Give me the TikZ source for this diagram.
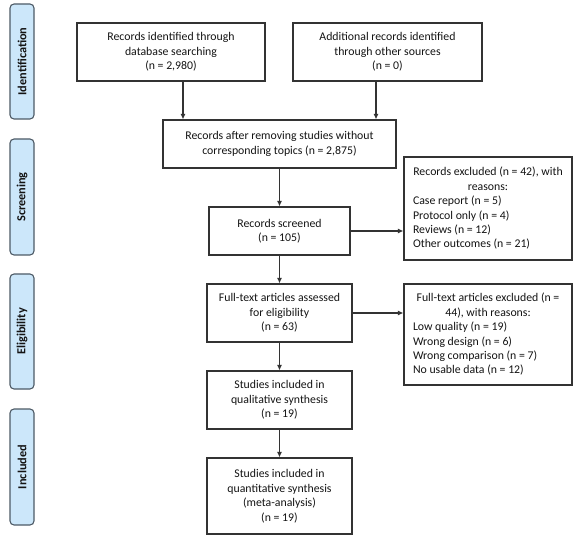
\documentclass[tikz,border=0pt]{standalone}
\usepackage{fontspec}
\setmainfont{Carlito}
\usetikzlibrary{arrows.meta}
\definecolor{boxc}{HTML}{333333}
\definecolor{txt}{HTML}{141414}
\definecolor{phf}{HTML}{CCE7FA}
\definecolor{phb}{HTML}{4D5A66}
\begin{document}
\begin{tikzpicture}[x=1pt,y=-1pt,
  box/.style={draw=boxc, line width=1.1pt, fill=white, inner sep=0pt, align=center, text=txt,
    font=\fontsize{11.8}{14.5}\selectfont},
  exbox/.style={draw=boxc, line width=1.1pt, fill=white, inner sep=0pt, text=txt,
    font=\fontsize{11.8}{14.4}\selectfont},
  phase/.style={draw=phb, fill=phf, line width=1.1pt, rounded corners=4pt, inner sep=0pt,
    rotate=90, text=txt, font=\fontsize{12.3}{14}\selectfont\bfseries},
  arr/.style={draw=boxc, line width=1.1pt, -{Latex[length=5.5pt,width=5pt]}}]
\useasboundingbox (0,0) rectangle (573,537);

% phase labels
\node[phase, minimum width=115pt, minimum height=24pt] (p1) at (22,61.5) {Identification};
\node[phase, minimum width=116pt, minimum height=24pt] (p2) at (22,197) {Screening};
\node[phase, minimum width=115pt, minimum height=24pt] (p3) at (22,331.5) {Eligibility};
\node[phase, minimum width=116pt, minimum height=24pt] (p4) at (22,467) {Included};

% main boxes
\node[box, minimum width=188pt, minimum height=58pt] (b1) at (171,52)
  {Records identified through\\database searching\\(n = 2,980)};
\node[box, minimum width=189pt, minimum height=58pt] (b2) at (387.5,52)
  {Additional records identified\\through other sources\\(n = 0)};
\node[box, minimum width=233pt, minimum height=48pt] (b3) at (279.5,144)
  {Records after removing studies without\\corresponding topics (n = 2,875)};
\node[box, minimum width=141pt, minimum height=48pt] (b4) at (279.5,231)
  {Records screened\\(n = 105)};
\node[box, minimum width=145pt, minimum height=58pt] (b5) at (279.5,313)
  {Full-text articles assessed\\for eligibility\\(n = 63)};
\node[box, minimum width=145pt, minimum height=58pt] (b6) at (279.5,400)
  {Studies included in\\qualitative synthesis\\(n = 19)};
\node[box, minimum width=145pt, minimum height=76pt] (b7) at (279.5,496)
  {Studies included in\\quantitative synthesis\\(meta-analysis)\\(n = 19)};

% exclusion boxes
\node[exbox, minimum width=168pt, minimum height=103pt] (e1) at (488,208.5)
  {\begin{minipage}{150pt}\centering Records excluded (n = 42), with\\reasons:\par
   \raggedright Case report (n = 5)\\Protocol only (n = 4)\\Reviews (n = 12)\\Other outcomes (n = 21)\end{minipage}};
\node[exbox, minimum width=168pt, minimum height=101pt] (e2) at (488,334.5)
  {\begin{minipage}{150pt}\centering Full-text articles excluded (n =\\44), with reasons:\par
   \raggedright Low quality (n = 19)\\Wrong design (n = 6)\\Wrong comparison (n = 7)\\No usable data (n = 12)\end{minipage}};

% connectors
\coordinate (x1) at (183,0);
\coordinate (x2) at (376,0);
\draw[arr] (b1.south -| x1) -- (b3.north -| x1);
\draw[arr] (b2.south -| x2) -- (b3.north -| x2);
\draw[arr] (b3.south) -- (b4.north);
\draw[arr] (b4.south) -- (b5.north);
\draw[arr] (b5.south) -- (b6.north);
\draw[arr] (b6.south) -- (b7.north);
\draw[arr] (b4.east) -- (b4.east -| e1.west);
\draw[arr] (b5.east) -- (b5.east -| e2.west);
\end{tikzpicture}
\end{document}
